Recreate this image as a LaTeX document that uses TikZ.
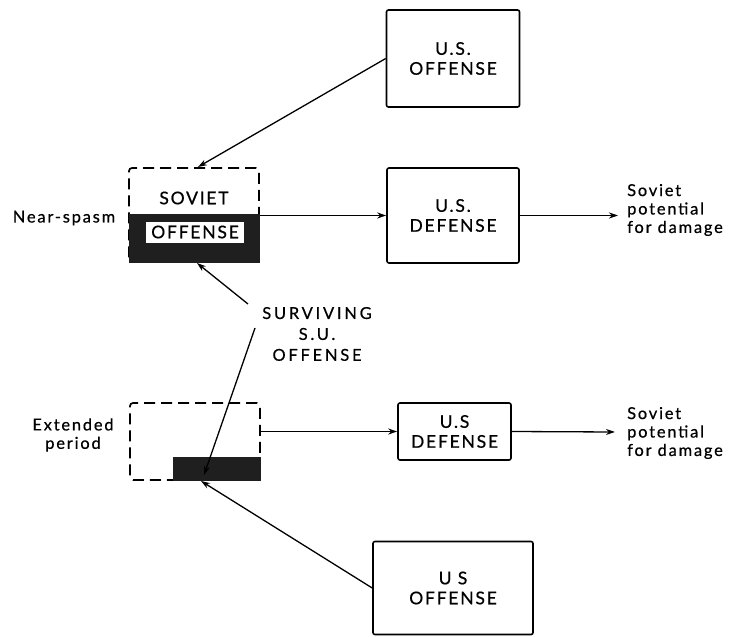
\documentclass[tikz,border=0pt]{standalone}
\usepackage{fontspec}
\setmainfont{Lato}
\newfontfamily\boxfont{Lato}[LetterSpace=10, FakeBold=0.6]
\newfontfamily\survfont{Lato}[LetterSpace=17, FakeBold=0.6]
\newfontfamily\sidefont{Lato}[LetterSpace=11, FakeBold=0.6]
\usetikzlibrary{arrows.meta}
\begin{document}
\begin{tikzpicture}[x=1bp,y=-1bp,
  every node/.style={inner sep=0pt},
  boxtext/.style={font=\boxfont\fontsize{17.6}{20}\selectfont},
  usbox/.style={draw, line width=1.6bp, rounded corners=2bp, align=center, boxtext},
  sovbox/.style={draw, line width=1.7bp, dash pattern=on 11bp off 6bp, rounded corners=3bp},
  band/.style={fill=black!88, draw=black!88},
  side/.style={align=center, font=\sidefont\fontsize{16.5}{18.5}\selectfont},
  conn/.style={line width=1.3bp, -{Stealth[length=9bp,width=6bp]}}
]
\useasboundingbox (0,0) rectangle (730,637);

% ---- upper (near-spasm) ----
\node[usbox, minimum width=133bp, minimum height=97bp] (usoff1) at (453,58.5) {U.S.\\OFFENSE};
\node[usbox, minimum width=132bp, minimum height=95bp] (usdef1) at (453,215.5) {U.S.\\DEFENSE};
\node[sovbox, minimum width=130bp, minimum height=94bp] (sov1) at (194,215) {};
\node[band, minimum width=130bp, minimum height=48bp] (band1) at (194,238) {};
\node[boxtext] (sovt) at (194,198) {SOVIET};
\node[boxtext, fill=white, minimum width=98bp, minimum height=21bp] (sovo) at (195,232) {OFFENSE};
\node[side] (near) at (64,218) {Near-spasm};
\coordinate (out1) at (618,215.5);
\node[side, align=left, anchor=west] (pot1) at (627,210) {Soviet\\potential\\for damage};

\draw[conn] (usoff1.west) -- (198,167);
\draw[conn] (sov1.east |- usdef1.west) -- (usdef1.west);
\draw[conn] (usdef1.east) -- (out1);

% ---- surviving label ----
\node[align=center, font=\survfont\fontsize{16.5}{21}\selectfont] (surv) at (317,334) {SURVIVING\\S.U.\\OFFENSE};
\coordinate (s1) at (248,304);
\coordinate (s2) at (255,328);
\draw[conn] (s1) -- (197,263);

% ---- lower (extended period) ----
\node[sovbox, minimum width=130bp, minimum height=77bp] (sov2) at (195,441.5) {};
\node[band, minimum width=87bp, minimum height=23bp] (band2) at (216.5,468.5) {};
\node[side] (ext) at (73,435) {Extended\\period};
\node[usbox, minimum width=113bp, minimum height=57bp] (usdef2) at (454.5,431.5) {U.S\\DEFENSE};
\node[usbox, minimum width=160bp, minimum height=93bp] (usoff2) at (453,588) {U S\\OFFENSE};
\coordinate (out2) at (615,432);
\node[side, align=left, anchor=west] (pot2) at (627,433) {Soviet\\potential\\for damage};

\draw[conn] (s2) -- (204,475);
\draw[conn] (sov2.east |- usdef2.west) -- (usdef2.west);
\draw[conn] (usdef2.east) -- (out2);
\draw[conn] (usoff2.west) -- (201,481);
\end{tikzpicture}
\end{document}
